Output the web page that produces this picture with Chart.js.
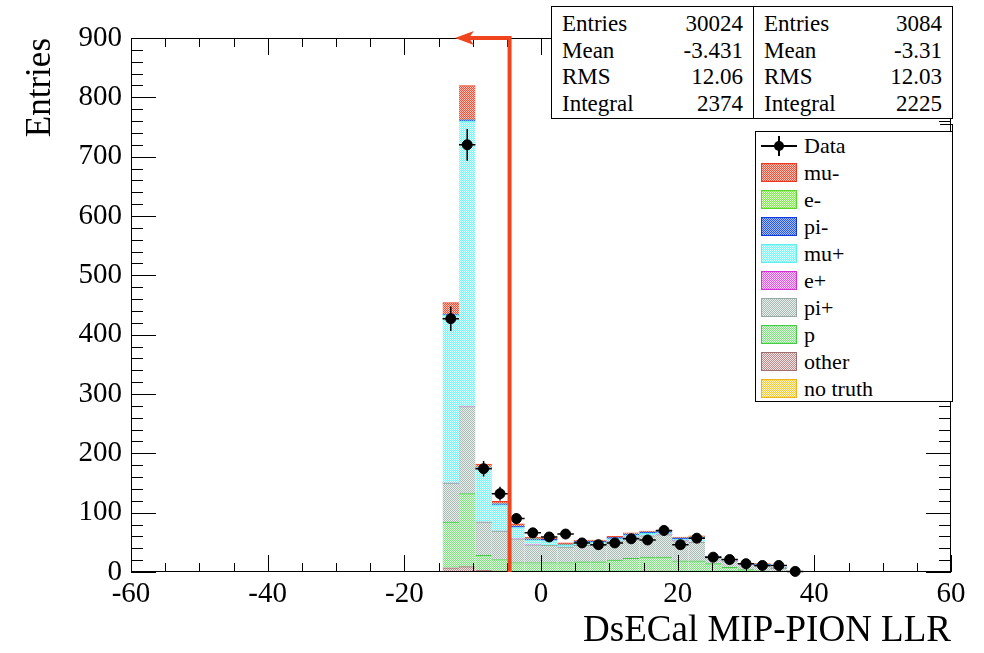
<!DOCTYPE html>
<html lang="en">
<head>
<meta charset="UTF-8">
<title>DsECal MIP-PION LLR</title>
<script src="https://cdn.jsdelivr.net/npm/chart.js"></script>
<style>
  body { margin: 0; padding: 0; background: #fff; }
  .wrap {
    position: relative;
    width: 984px;
    height: 653px;
    font-family: "Liberation Serif", "DejaVu Serif", serif;
    color: #000;
  }
  .stats {
    position: absolute;
    top: 6px;
    height: 113px;
    border: 1px solid #000;
    box-sizing: border-box;
    background: #fff;
    padding: 4px 10px 0 10px;
    font-size: 23px;
  }
  .stats .row {
    display: flex;
    justify-content: space-between;
    height: 26.5px;
    line-height: 26.5px;
  }
  .stub {
    position: absolute;
    left: 940px; top: 124px;
    width: 12px; height: 7px;
    border-top: 1px solid #000;
    border-right: 1px solid #000;
  }
  .legend {
    position: absolute;
    left: 755px; top: 131px;
    width: 198px; height: 271px;
    border: 1px solid #000;
    box-sizing: border-box;
    background: #fff;
    font-size: 22px;
  }
  .legend .item {
    display: flex;
    align-items: center;
    height: 27px;
    padding-left: 5px;
  }
  .legend .swatch {
    width: 36px; height: 19px;
    box-sizing: border-box;
    border: 1px solid #000;
    margin-right: 7px;
    flex: none;
  }
  .legend .mark {
    position: relative;
    width: 36px; height: 20px;
    margin-right: 7px;
    flex: none;
  }
  .mark .h { position: absolute; left: 0; top: 9px; width: 36px; height: 2px; background: #000; }
  .mark .v { position: absolute; left: 17px; top: 0; width: 2px; height: 20px; background: #000; }
  .mark .dot { position: absolute; left: 13px; top: 5px; width: 10px; height: 10px; border-radius: 50%; background: #000; }
</style>
</head>
<body>
<div class="wrap">
  <canvas id="llrChart" width="984" height="653"></canvas>
  <div id="statsMC" class="stats" style="left:551px;width:203px"></div>
  <div id="statsData" class="stats" style="left:753px;width:200px"></div>
  <div class="stub"></div>
  <div id="legend" class="legend"></div>
</div>
<script>
// bins are 2.4 wide (50 bins from -60 to 60), only the filled ones are listed
const binCenters = [-13.2, -10.8, -8.4, -6.0, -3.6, -1.2, 1.2, 3.6, 6.0, 8.4, 10.8,
                    13.2, 15.6, 18.0, 20.4, 22.8, 25.2, 27.6, 30.0, 32.4, 34.8, 37.2];
const dataCounts = [427, 720, 174, 132, 90, 66, 59, 64, 49, 46, 49,
                    56, 54, 70, 46, 57, 25, 21, 14, 11, 11, 1];

// MC components (stack order bottom -> top)
const noTruth = [0, 0, 0, 0, 0, 0, 0, 0, 0, 0, 0, 0, 0, 0, 0, 0, 0, 0, 0, 0, 0, 0];
const other   = [7, 9, 3, 2, 1, 1, 1, 1, 1, 1, 1, 1, 2, 2, 1, 1, 0, 0, 0, 0, 0, 0];
const proton  = [77, 123, 25, 19, 15, 15, 15, 15, 16, 16, 19, 22, 23, 23, 18, 18, 14, 8, 4, 2, 1, 0];
const piPlus  = [66, 147, 56, 48, 40, 30, 29, 26, 28, 28, 32, 36, 36, 38, 34, 31, 10, 11, 9, 8, 5, 1];
const ePlus   = [0, 0, 0, 0, 0, 0, 0, 0, 0, 0, 0, 0, 0, 0, 0, 0, 0, 0, 0, 0, 0, 0];
const muPlus  = [283, 481, 92, 44, 19, 8, 8, 3, 5, 5, 4, 3, 4, 3, 2, 7, 1, 1, 1, 2, 1, 0];
const piMinus = [1, 2, 1, 2, 2, 2, 2, 1, 2, 2, 2, 2, 2, 2, 2, 2, 1, 0, 0, 1, 0, 0];
const eMinus  = [0, 0, 0, 0, 0, 0, 0, 0, 0, 0, 0, 0, 0, 0, 0, 0, 0, 0, 0, 0, 0, 0];
const muMinus = [20, 58, 5, 4, 4, 3, 2, 3, 2, 2, 2, 2, 2, 2, 2, 2, 1, 0, 1, 1, 1, 0];

const binWidth = 2.4;
const xMin = -60, xMax = 60, xMajorStep = 20, xMinorStep = 5;
const yMin = 0, yMax = 900, yMajorStep = 100, yMinorStep = 20;
const cutValue = -4.6;
const arrowTipValue = -12.6;

const statLabels = ['Entries', 'Mean', 'RMS', 'Integral'];
const statsMC = ['30024', '-3.431', '12.06', '2374'];
const statsData = ['3084', '-3.31', '12.03', '2225'];

// name, values, fill colour, dot colour, outline colour (legend order = top of stack first)
const species = [
  ['mu-', muMinus, '#f05038', '#fcc4b8', '#ee3820'],
  ['e-', eMinus, '#80e850', '#e0fcd0', '#58d828'],
  ['pi-', piMinus, '#2858ec', '#a8bcfa', '#1038e0'],
  ['mu+', muPlus, '#78f6f6', '#e0ffff', '#60eeee'],
  ['e+', ePlus, '#e458e4', '#fcccfc', '#d830d8'],
  ['pi+', piPlus, '#aabab4', '#e8eeec', '#98a8a2'],
  ['p', proton, '#7ee07e', '#e0fae0', '#44cc44'],
  ['other', other, '#b89090', '#f0e2e2', '#a07070'],
  ['no truth', noTruth, '#f8c838', '#fff4c8', '#f0b020']
];

function dotTile(base, light) {
  const c = document.createElement('canvas');
  c.width = 2; c.height = 2;
  const g = c.getContext('2d');
  g.fillStyle = light; g.fillRect(0, 0, 2, 2);
  g.fillStyle = base; g.fillRect(0, 0, 1, 1); g.fillRect(1, 1, 1, 1);
  return c;
}

const canvas = document.getElementById('llrChart');
const ctx = canvas.getContext('2d');

const stackDatasets = species.slice().reverse().map(s => {
  const tile = dotTile(s[2], s[3]);
  return {
    type: 'bar',
    label: s[0],
    data: binCenters.map((x, i) => ({ x: x, y: s[1][i] })),
    backgroundColor: ctx.createPattern(tile, 'repeat'),
    borderColor: s[4],
    borderWidth: { top: 1, left: 0, right: 0, bottom: 0 },
    borderSkipped: false,
    barPercentage: 1,
    categoryPercentage: 1,
    order: 2
  };
});

const dataSet = {
  type: 'line',
  label: 'Data',
  data: binCenters.map((x, i) => ({ x: x, y: dataCounts[i] })),
  showLine: false,
  pointRadius: 5,
  pointHoverRadius: 5,
  pointBackgroundColor: '#000',
  pointBorderColor: '#000',
  clip: false,
  order: 1
};

const rootStyle = {
  id: 'rootStyle',
  afterDatasetsDraw(chart) {
    const { ctx, scales: { x, y } } = chart;
    ctx.save();
    ctx.strokeStyle = '#000';
    ctx.lineWidth = 1.5;
    binCenters.forEach((c, i) => {
      const n = dataCounts[i];
      const err = Math.sqrt(n);
      const px = x.getPixelForValue(c);
      const py = y.getPixelForValue(n);
      ctx.beginPath();
      ctx.moveTo(x.getPixelForValue(c - binWidth / 2), py);
      ctx.lineTo(x.getPixelForValue(c + binWidth / 2), py);
      ctx.moveTo(px, y.getPixelForValue(n - err));
      ctx.lineTo(px, y.getPixelForValue(n + err));
      ctx.stroke();
    });
    ctx.restore();
  },
  afterDraw(chart) {
    const { ctx, chartArea: a, scales: { x, y } } = chart;
    ctx.save();
    ctx.strokeStyle = '#000';
    ctx.lineWidth = 1;
    ctx.strokeRect(a.left + 0.5, a.top + 0.5, a.right - a.left - 1, a.bottom - a.top - 1);

    ctx.beginPath();
    const nx = Math.round((xMax - xMin) / xMinorStep);
    for (let k = 0; k <= nx; k++) {
      const v = xMin + k * xMinorStep;
      const px = Math.round(x.getPixelForValue(v)) + 0.5;
      const len = (v - xMin) % xMajorStep === 0 ? 17 : 9;
      ctx.moveTo(px, a.bottom); ctx.lineTo(px, a.bottom - len);
      ctx.moveTo(px, a.top); ctx.lineTo(px, a.top + len);
    }
    const ny = Math.round((yMax - yMin) / yMinorStep);
    for (let k = 0; k <= ny; k++) {
      const v = yMin + k * yMinorStep;
      const py = Math.round(y.getPixelForValue(v)) + 0.5;
      const len = v % yMajorStep === 0 ? 25 : 12;
      ctx.moveTo(a.left, py); ctx.lineTo(a.left + len, py);
      ctx.moveTo(a.right, py); ctx.lineTo(a.right - len, py);
    }
    ctx.stroke();

    // cut arrow
    const cx = x.getPixelForValue(cutValue);
    const tx = x.getPixelForValue(arrowTipValue);
    const top = y.getPixelForValue(yMax);
    const bot = y.getPixelForValue(yMin);
    ctx.strokeStyle = '#f0441e';
    ctx.fillStyle = '#f0441e';
    ctx.lineWidth = 4;
    ctx.beginPath();
    ctx.moveTo(cx, bot);
    ctx.lineTo(cx, top);
    ctx.lineTo(tx + 12, top);
    ctx.stroke();
    ctx.beginPath();
    ctx.moveTo(tx, top);
    ctx.lineTo(tx + 19, top - 7);
    ctx.lineTo(tx + 14, top);
    ctx.lineTo(tx + 19, top + 7);
    ctx.closePath();
    ctx.fill();
    ctx.restore();
  }
};

Chart.defaults.font.family = '"Liberation Serif", "DejaVu Serif", serif';
Chart.defaults.color = '#000';

new Chart(ctx, {
  type: 'bar',
  data: { datasets: stackDatasets.concat([dataSet]) },
  options: {
    responsive: false,
    animation: false,
    devicePixelRatio: 1,
    layout: { padding: { top: 38, right: 33, left: 0, bottom: 0 } },
    plugins: {
      legend: { display: false },
      tooltip: { enabled: false }
    },
    scales: {
      x: {
        type: 'linear',
        stacked: true,
        offset: false,
        min: xMin,
        max: xMax,
        grid: { display: false, drawTicks: false },
        border: { display: false },
        ticks: { stepSize: xMajorStep, padding: 5, maxRotation: 0, autoSkip: false, font: { size: 29 } },
        title: { display: true, text: 'DsECal MIP-PION LLR', align: 'end', font: { size: 37 }, padding: { top: 0, bottom: 0 } },
        afterFit: (scale) => { scale.height = 81; }
      },
      y: {
        stacked: true,
        min: yMin,
        max: yMax,
        grid: { display: false, drawTicks: false },
        border: { display: false },
        ticks: { stepSize: yMajorStep, padding: 9, font: { size: 29 } },
        title: { display: true, text: 'Entries', align: 'end', font: { size: 35 }, padding: { top: 20, bottom: 0 } },
        afterFit: (scale) => { scale.width = 131; }
      }
    }
  },
  plugins: [rootStyle]
});

// stats boxes
function fillStats(id, values) {
  const box = document.getElementById(id);
  statLabels.forEach((label, i) => {
    const row = document.createElement('div');
    row.className = 'row';
    const l = document.createElement('span');
    l.textContent = label;
    const v = document.createElement('span');
    v.textContent = values[i];
    row.appendChild(l);
    row.appendChild(v);
    box.appendChild(row);
  });
}
fillStats('statsMC', statsMC);
fillStats('statsData', statsData);

// legend
const legendBox = document.getElementById('legend');
const dataItem = document.createElement('div');
dataItem.className = 'item';
dataItem.innerHTML = '<div class="mark"><div class="h"></div><div class="v"></div><div class="dot"></div></div>';
const dataText = document.createElement('span');
dataText.textContent = 'Data';
dataItem.appendChild(dataText);
legendBox.appendChild(dataItem);

species.forEach(s => {
  const item = document.createElement('div');
  item.className = 'item';
  const sw = document.createElement('div');
  sw.className = 'swatch';
  sw.style.backgroundImage = 'url(' + dotTile(s[2], s[3]).toDataURL() + ')';
  sw.style.borderColor = s[4];
  const t = document.createElement('span');
  t.textContent = s[0];
  item.appendChild(sw);
  item.appendChild(t);
  legendBox.appendChild(item);
});
</script>
</body>
</html>
